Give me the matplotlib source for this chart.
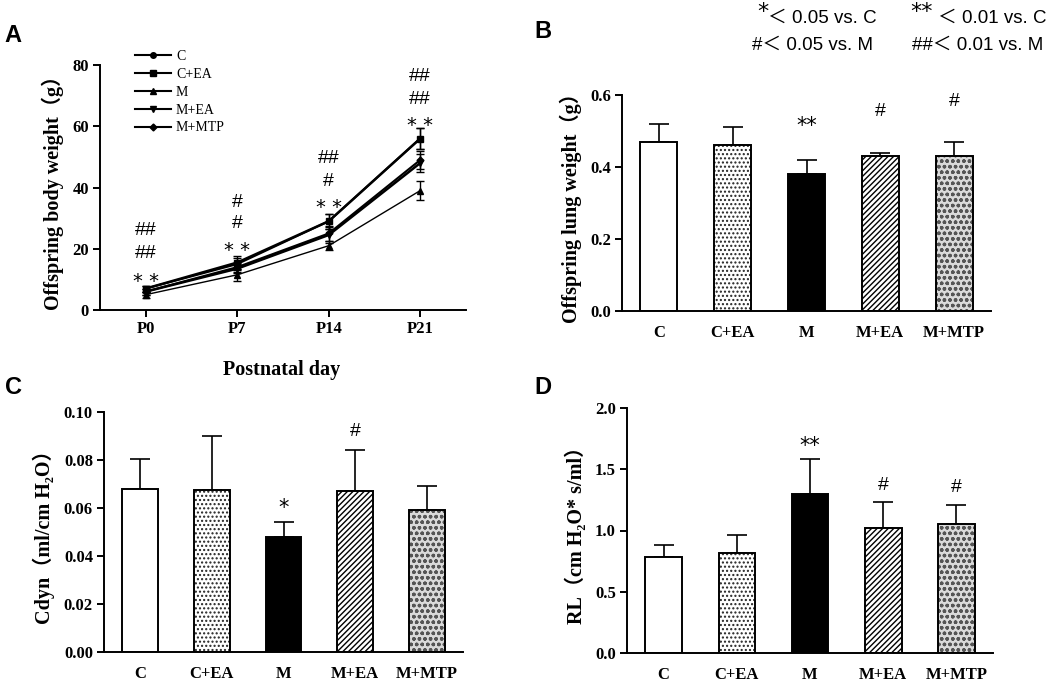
import matplotlib
matplotlib.use("Agg")
import matplotlib.pyplot as plt
import numpy as np

plt.rcParams['font.family'] = ['Liberation Serif', 'DejaVu Serif', 'Noto Sans CJK SC', 'DejaVu Sans']
plt.rcParams['hatch.linewidth'] = 1.0

# ---------------- data ----------------
groups = ["C", "C+EA", "M", "M+EA", "M+MTP"]
days = ["P0", "P7", "P14", "P21"]

bw_C = [7.0, 15.0, 29.0, 56.0]
bw_CEA = [7.0, 15.5, 29.0, 56.0]
bw_M = [5.0, 11.5, 21.0, 39.0]
bw_MEA = [6.0, 13.5, 24.5, 48.0]
bw_MMTP = [6.0, 14.0, 25.0, 49.0]
bw_err_C = [1.0, 2.0, 2.5, 3.5]
bw_err_CEA = [1.0, 2.0, 2.5, 3.5]
bw_err_M = [1.0, 2.0, 1.5, 3.0]
bw_err_MEA = [1.0, 1.5, 2.5, 3.0]
bw_err_MMTP = [1.0, 1.5, 2.5, 3.0]
sig_A = [["**", "##", "##"], ["**", "#", "#"], ["**", "#", "##"], ["**", "##", "##"]]
sig_A_y = [[10.8, 18.6, 26.0], [21.0, 28.4, 35.0], [35.0, 42.0, 49.6], [61.7, 68.6, 76.4]]

lung_mean = [0.47, 0.46, 0.38, 0.43, 0.43]
lung_err = [0.05, 0.05, 0.04, 0.01, 0.04]
lung_sig = ["", "", "**", "#", "#"]
lung_sig_y = [0, 0, 0.52, 0.553, 0.583]

cdyn_mean = [0.068, 0.0675, 0.048, 0.067, 0.059]
cdyn_err = [0.0125, 0.0225, 0.0063, 0.0173, 0.010]
cdyn_sig = ["", "", "*", "#", ""]
cdyn_sig_y = [0, 0, 0.0613, 0.0917, 0]

rl_mean = [0.78, 0.82, 1.30, 1.02, 1.05]
rl_err = [0.10, 0.14, 0.28, 0.21, 0.16]
rl_sig = ["", "", "**", "#", "#"]
rl_sig_y = [0, 0, 1.71, 1.37, 1.355]

# ---------------- figure ----------------
W, H = 1050, 681
fig = plt.figure(figsize=(W / 100, H / 100), dpi=100)


def ax_px(l, r, t, b):
    return fig.add_axes([l / W, 1 - b / H, (r - l) / W, (b - t) / H])


label_font = dict(fontsize=14.5, fontweight='bold')


def style_axes(ax):
    for s in ['top', 'right']:
        ax.spines[s].set_visible(False)
    for s in ['left', 'bottom']:
        ax.spines[s].set_linewidth(1.4)
    ax.tick_params(axis='both', direction='out', length=5, width=1.4, pad=3)
    for lab in ax.get_xticklabels() + ax.get_yticklabels():
        lab.set_fontsize(12)
        lab.set_fontweight('bold')


# ----- Panel A -----
axA = ax_px(100, 466, 65, 310)
xs = np.arange(len(days))
series = [(bw_C, bw_err_C, 'o', 4, 1.5),
          (bw_CEA, bw_err_CEA, 's', 4.5, 1.8),
          (bw_M, bw_err_M, '^', 4, 1.0),
          (bw_MEA, bw_err_MEA, 'v', 4.5, 1.8),
          (bw_MMTP, bw_err_MMTP, 'D', 3.5, 1.5)]
handles = []
for vals, errs, mk, ms, lw in series:
    axA.errorbar(xs, vals, yerr=errs, color='black', lw=lw, marker=mk, ms=ms,
                 capsize=3, elinewidth=1.0, capthick=1.0)
    h, = axA.plot([], [], color='black', lw=1.5, marker=mk, ms=ms)
    handles.append(h)
axA.set_xlim(-0.5, 3.5)
axA.set_ylim(0, 80)
axA.set_yticks([0, 20, 40, 60, 80])
axA.set_xticks(xs)
axA.set_xticklabels(days)
axA.set_ylabel("Offspring body weight（g）", labelpad=6, **label_font)
style_axes(axA)
for i in range(len(days)):
    for s, yv in zip(sig_A[i], sig_A_y[i]):
        if s.startswith('*'):
            axA.text(xs[i], yv - 1.5, s.replace('**', '* *'), ha='center', va='center',
                     fontsize=14, family=['DejaVu Sans'])
        else:
            axA.text(xs[i], yv, s, ha='center', va='center', fontsize=14,
                     family=['Liberation Sans'])
fig.text(282 / W, 1 - 370 / H, "Postnatal day", ha='center', va='center', **label_font)
fig.legend(handles, groups, loc='upper left',
           bbox_to_anchor=(128 / W, 1 - 43 / H), frameon=False, fontsize=10,
           handlelength=2.6, handletextpad=0.35, labelspacing=0.35, borderpad=0)


def bar_panel(ax, means, errs, sigs, sig_y, ylim, yticks, fmt, ylabel):
    x = np.arange(len(groups))
    fills = ['white', 'white', 'black', 'white', '#dadada']
    hatches = [None, '....', None, '//////', 'ooo']
    hatch_cols = ['black', '#222222', 'black', 'black', '#555555']
    for i in range(len(groups)):
        ax.bar(x[i], means[i], width=0.5, color=fills[i], edgecolor=hatch_cols[i],
               linewidth=0, hatch=hatches[i], zorder=2)
        ax.bar(x[i], means[i], width=0.5, fill=False, edgecolor='black',
               linewidth=1.4, zorder=3)
    ax.errorbar(x, means, yerr=[np.zeros(len(means)), errs], fmt='none',
                ecolor='black', elinewidth=1.2, capsize=7, capthick=1.2, zorder=1)
    for i, s in enumerate(sigs):
        if s:
            if s.startswith('*'):
                ax.text(x[i], sig_y[i] - (ylim[1] * 0.012), s, ha='center', va='center',
                        fontsize=15, family=['DejaVu Sans'])
            else:
                ax.text(x[i], sig_y[i], s, ha='center', va='center', fontsize=14,
                        family=['Liberation Sans'])
    ax.set_xlim(-0.5, 4.5)
    ax.set_ylim(*ylim)
    ax.set_yticks(yticks)
    ax.set_yticklabels([fmt.format(v) for v in yticks])
    ax.set_xticks(x)
    ax.set_xticklabels(groups)
    ax.set_ylabel(ylabel, labelpad=6, **label_font)
    style_axes(ax)
    ax.tick_params(axis='x', length=0, pad=10)


axB = ax_px(622, 991, 95, 311)
bar_panel(axB, lung_mean, lung_err, lung_sig, lung_sig_y, (0, 0.6),
          [0.0, 0.2, 0.4, 0.6], "{:.1f}", "Offspring lung weight（g）")

axC = ax_px(104, 463, 412, 652)
bar_panel(axC, cdyn_mean, cdyn_err, cdyn_sig, cdyn_sig_y, (0, 0.10),
          [0.0, 0.02, 0.04, 0.06, 0.08, 0.10], "{:.2f}", "Cdyn（ml/cm H₂O）")

axD = ax_px(627, 993, 408, 653)
bar_panel(axD, rl_mean, rl_err, rl_sig, rl_sig_y, (0, 2.0),
          [0.0, 0.5, 1.0, 1.5, 2.0], "{:.1f}", "RL（cm H₂O* s/ml）")

# panel letters
for letter, (px, py) in zip("ABCD", [(13, 36), (543, 32), (13, 387), (543, 387)]):
    fig.text(px / W, 1 - py / H, letter, ha='center', va='center', fontsize=17,
             fontweight='bold', family=['Liberation Sans'])

# significance key
key_font = dict(fontsize=13.5, family=['Liberation Sans', 'Noto Sans CJK SC'], va='center')
fig.text(757 / W, 1 - 12 / H, "*", ha='left', fontsize=16, family=['DejaVu Sans'], va='center')
fig.text(768 / W, 1 - 18 / H, "＜ 0.05 vs. C", ha='left', **key_font)
fig.text(910 / W, 1 - 12 / H, "**", ha='left', fontsize=16, family=['DejaVu Sans'], va='center')
fig.text(938 / W, 1 - 18 / H, "＜ 0.01 vs. C", ha='left', **key_font)
fig.text(752 / W, 1 - 45 / H, "#＜ 0.05 vs. M", ha='left', **key_font)
fig.text(912 / W, 1 - 45 / H, "##＜ 0.01 vs. M", ha='left', **key_font)

fig.savefig("out.png", dpi=100)
